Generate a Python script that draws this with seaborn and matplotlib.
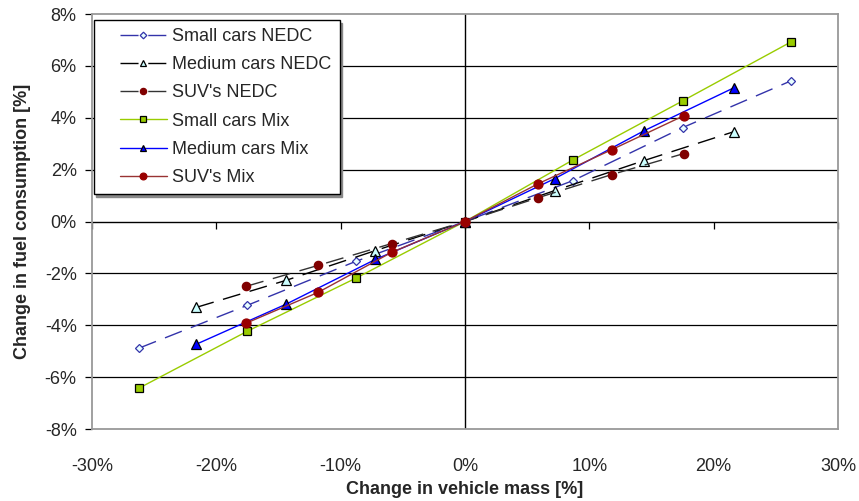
import numpy as np
import pandas as pd
import matplotlib
matplotlib.use('Agg')
import matplotlib.pyplot as plt
import seaborn as sns
from matplotlib.ticker import PercentFormatter
from matplotlib.lines import Line2D
from matplotlib.legend_handler import HandlerLine2D

# Values (both axes in %)
small_nedc_x = [-26.2, -17.5, -8.8, 0.0, 8.7, 17.5, 26.2]
small_nedc_y = [-4.88, -3.23, -1.54, 0.0, 1.58, 3.62, 5.42]

medium_nedc_x = [-21.6, -14.4, -7.2, 0.0, 7.2, 14.4, 21.6]
medium_nedc_y = [-3.31, -2.27, -1.12, 0.0, 1.19, 2.35, 3.46]

suv_nedc_x = [-17.6, -11.8, -5.9, 0.0, 5.9, 11.8, 17.6]
suv_nedc_y = [-2.50, -1.69, -0.85, 0.0, 0.92, 1.81, 2.62]

small_mix_x = [-26.2, -17.5, -8.8, 0.0, 8.7, 17.5, 26.2]
small_mix_y = [-6.42, -4.23, -2.19, 0.0, 2.38, 4.65, 6.92]

medium_mix_x = [-21.6, -14.4, -7.2, 0.0, 7.2, 14.4, 21.6]
medium_mix_y = [-4.73, -3.19, -1.46, 0.0, 1.65, 3.50, 5.15]

suv_mix_x = [-17.6, -11.8, -5.9, 0.0, 5.9, 11.8, 17.6]
suv_mix_y = [-3.92, -2.73, -1.19, 0.0, 1.46, 2.77, 4.08]

sns.set_style('white')
plt.rcParams['font.family'] = ['Liberation Sans', 'DejaVu Sans']
plt.rcParams['axes.unicode_minus'] = False

fig = plt.figure(figsize=(8.59, 5.01), dpi=100)
ax = fig.add_axes([0.107, 0.1437, 0.8686, 0.8283])

# horizontal grid + zero lines
for g in [-6, -4, -2, 2, 4, 6]:
    ax.axhline(g, color='black', lw=0.9, zorder=0)
ax.axhline(0, color='black', lw=1.0, zorder=0)
ax.axvline(0, color='black', lw=1.0, zorder=0)

dash = (0, (13, 7))
series = [
    ('Small cars NEDC', small_nedc_x, small_nedc_y, '#3333AA', dash, 'D', '#E8FFFF', '#3333AA', 4.5),
    ('Medium cars NEDC', medium_nedc_x, medium_nedc_y, 'black', dash, '^', '#CCFFFF', 'black', 6.5),
    ('SUV\'s NEDC', suv_nedc_x, suv_nedc_y, '#333333', dash, 'o', '#800000', '#800000', 6),
    ('Small cars Mix', small_mix_x, small_mix_y, '#99CC00', '-', 's', '#99CC00', 'black', 5.5),
    ('Medium cars Mix', medium_mix_x, medium_mix_y, '#0000FF', '-', '^', '#0000FF', 'black', 6.5),
    ('SUV\'s Mix', suv_mix_x, suv_mix_y, '#993333', '-', 'o', '#990000', '#990000', 6.5),
]

for name, xs, ys, col, ls, mk, mfc, mec, ms in series:
    df = pd.DataFrame({'x': xs, 'y': ys})
    sns.lineplot(data=df, x='x', y='y', ax=ax, color=col, linestyle=ls, lw=1.0,
                 marker=mk, markersize=ms, markerfacecolor=mfc, markeredgecolor=mec,
                 markeredgewidth=0.9, label=name, zorder=3)

ax.set_xlim(-30, 30)
ax.set_ylim(-8, 8)
ax.set_xticks(np.arange(-30, 31, 10))
ax.set_yticks(np.arange(-8, 9, 2))
ax.xaxis.set_major_formatter(PercentFormatter(decimals=0))
ax.yaxis.set_major_formatter(PercentFormatter(decimals=0))
ax.tick_params(axis='x', length=0, labelsize=13, pad=21)
ax.tick_params(axis='y', left=True, length=5, width=0.9, color='black', labelsize=13, pad=6)

for sp in ax.spines.values():
    sp.set_color('#999999')
    sp.set_linewidth(1.3)

# x tick marks on the zero line
sec = ax.secondary_xaxis(0.4999)
sec.set_xticks(np.arange(-30, 31, 10))
sec.tick_params(axis='x', direction='out', length=5, width=0.9, color='black', labelbottom=False, labeltop=False)
sec.spines['bottom'].set_visible(False)
sec.spines['top'].set_visible(False)

ax.set_xlabel('Change in vehicle mass [%]', fontsize=13, fontweight='bold')
ax.xaxis.set_label_coords(0.5, -0.125)
ax.set_ylabel('Change in fuel consumption [%]', fontsize=13, fontweight='bold', labelpad=10)

leg = ax.legend(loc='upper left', bbox_to_anchor=(0.0, 0.99), fontsize=13, frameon=True,
                fancybox=False, shadow={'color': '#888888', 'alpha': 1.0}, borderpad=0.45,
                handlelength=3.6, handletextpad=0.3, labelspacing=0.62, borderaxespad=0.1,
                markerscale=0.75, handler_map={Line2D: HandlerLine2D(xpad=1.0)})
leg.get_frame().set_edgecolor('black')
leg.get_frame().set_linewidth(1.0)

fig.savefig('out.png', dpi=100)
